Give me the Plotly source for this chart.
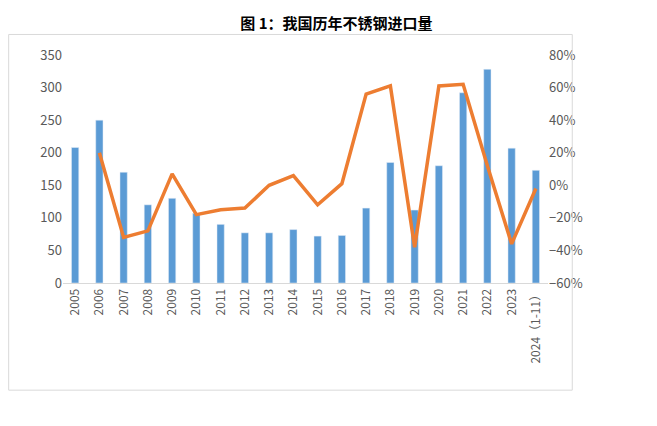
import plotly.graph_objects as go

years = ["2005", "2006", "2007", "2008", "2009", "2010", "2011", "2012", "2013", "2014",
         "2015", "2016", "2017", "2018", "2019", "2020", "2021", "2022", "2023", "2024（1-11）"]
imports = [208, 250, 170, 120, 130, 107, 90, 77, 77, 82, 72, 73, 115, 185, 112, 180, 292, 328, 207, 173]
growth = [None, 20, -32, -28, 7, -18, -15, -14, 0, 6, -12, 1, 56, 61, -38, 61, 62, 12, -36, -2]

font = "Noto Sans CJK SC"
fig = go.Figure()
fig.add_bar(x=years, y=imports, marker_color="#5b9bd5", width=0.3, name="进口量")
fig.add_scatter(x=years, y=growth, yaxis="y2", mode="lines",
                line=dict(color="#ed7d31", width=3.5), name="增速")

fig.update_layout(
    width=657, height=426, showlegend=False,
    paper_bgcolor="white", plot_bgcolor="white",
    margin=dict(l=55, r=117, t=47, b=151),
    font=dict(family=font, size=13, color="#595959"),
    title=dict(text="<b>图 1：我国历年不锈钢进口量</b>", x=0.5, xanchor="center", y=0.975,
               font=dict(size=15, color="black")),
    xaxis=dict(tickangle=-90, showline=True, linecolor="#d9d9d9", ticks="",
               tickfont=dict(size=12)),
    yaxis=dict(range=[0, 350], dtick=50, showgrid=False, zeroline=False),
    yaxis2=dict(range=[-60, 80], dtick=20, ticksuffix="%", overlaying="y", side="right",
                showgrid=False, zeroline=False),
    shapes=[dict(type="rect", xref="paper", yref="paper", x0=-0.112, x1=1.05, y0=-0.47, y1=1.09,
                 line=dict(color="#d9d9d9", width=1))],
)
fig.write_html("out.html")
